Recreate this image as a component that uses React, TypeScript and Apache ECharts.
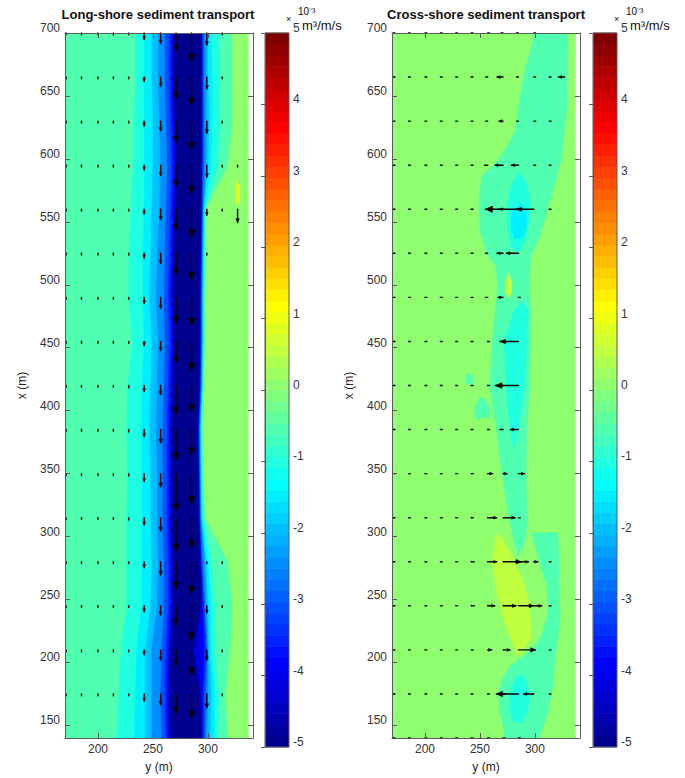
import React, { useEffect, useRef } from "react";
import * as echarts from "echarts";

const FONT = '"Liberation Sans", Arial, Helvetica, sans-serif';
const AX = "#5a5a5a";
const TX = "#333333";

// ---- axes ----
const Y_MIN = 170, Y_MAX = 341;          // horizontal axis "y (m)"
const X_MIN = 140, X_MAX = 700;          // vertical axis "x (m)"
const DATA_Y_MAX = 337;                  // model domain edge
const C_MIN = -5, C_MAX = 5;             // colour range (x10^-3 m3/m/s)
const yTickVals = [200, 250, 300];
const xTickVals = [150, 200, 250, 300, 350, 400, 450, 500, 550, 600, 650, 700];

// ---- contour knots (x positions) for long-shore field ----
const rows = [140, 175, 210, 245, 280, 315, 350, 385, 420, 455, 490, 525, 560, 595, 630, 665, 700];

// right edge of the -0.5 band (band starts at the offshore edge)
const lsAquaRight = [318, 316, 320, 322, 318, 297, 296, 295, 296, 297, 297, 298, 298, 318, 322, 322, 322];
// nested bands: left / right y-boundaries at each row
const lsBand10L = [217, 219, 221, 226, 226, 226, 227, 226, 227, 231, 228, 228, 230, 232, 233, 234, 234];
const lsBand10R = [309, 310, 306, 306, 303, 296, 295, 294.5, 295.5, 296.5, 296.5, 297, 297.5, 309, 311, 311, 310];
const lsBand15L = [233, 234, 235, 240, 240, 240, 240, 239, 240, 242, 241, 241, 242, 242, 242, 242, 242];
const lsBand15R = [306, 306, 303, 303, 300, 295, 294, 293.5, 295, 296, 296, 296, 297, 303, 304, 304, 303];
const lsBand20L = [243, 243, 243, 248, 249, 248, 248, 247, 248, 249, 247, 248, 249, 250, 250, 249, 249];
const lsBand20R = [302, 303, 301, 300, 298, 294, 293.5, 293, 294.5, 295, 295, 295.5, 296, 300, 301, 300, 300];
const lsBand25L = [249, 249, 249, 254, 255, 254, 254, 253, 254, 255, 253, 254, 256, 257, 256, 255, 255];
const lsBand25R = [299, 300, 300, 298, 297, 293.5, 293, 292.5, 294, 294.5, 294.5, 295, 295.5, 298, 298, 298, 298];
const lsBand30L = [258, 257, 258, 260, 260, 259, 259, 259, 260, 261, 260, 261, 262, 263, 262, 261, 261];
const lsBand30R = [297, 298, 299, 297, 295, 293, 292.5, 292, 293.5, 294, 294, 294.5, 295, 296, 296, 296, 296];
const lsBand35L = [262, 261, 262, 264, 264, 263, 263, 263, 264, 265, 264, 265, 266, 267, 266, 265, 265];
const lsBand35R = [296, 296, 298, 296, 294, 292.5, 292, 291.5, 293, 293.5, 293.5, 294, 294.5, 295, 295, 295, 295];
const lsBand40L = [264, 263, 264, 266, 266, 265, 265, 265, 266, 267, 266, 267, 268, 269, 268, 267, 267];
const lsBand40R = [295, 295, 296, 295, 293.5, 292, 291.5, 291, 292.5, 293, 293, 293.5, 294, 294.5, 294.5, 294.5, 294.5];
const lsBand50L = [266, 265, 266, 268, 268, 267, 267, 267, 268, 269, 268, 269, 270, 271, 270, 269, 269];
const lsBand50R = [294, 293, 287, 294, 293, 291.5, 291, 290.5, 292, 292.5, 292.5, 293, 293.5, 294, 294, 294, 294];
const lsSpot = [[326, 583], [329, 578], [329, 566], [327, 563], [325, 570]];

// ---- cross-shore field regions ([y, x] vertices) ----
const csAquaUpper = [[300, 700], [292, 674], [286, 648], [282, 622], [274, 609], [264, 596], [252, 587], [249, 569], [250, 543], [256, 525], [264, 515], [266, 500], [264, 480], [261, 455], [259, 420], [262, 400], [265, 385], [270, 350], [276, 317], [280, 300], [285, 284], [292, 300], [293, 317], [292, 350], [293, 385], [295, 420], [296, 455], [296, 480], [295, 500], [296, 522], [305, 540], [315, 570], [324, 600], [329, 640], [330, 700]];
const csAquaLower = [[297, 303], [304, 280], [311, 260], [312, 240], [306, 221], [297, 210], [277, 197], [270, 186], [267, 176], [268, 160], [271, 150], [273, 140], [304, 140], [312, 160], [316, 180], [318, 200], [321, 220], [323, 240], [322, 260], [322, 280], [321, 303]];
const csYellow = [[265, 302], [261, 281], [265, 255], [274, 228], [283, 207], [285, 205], [293, 214], [297, 221], [295, 247], [288, 268], [277, 288], [270, 299]];
const csYellowSmall = [[276, 509], [279, 502], [279, 494], [276, 489], [273, 494], [273, 502]];
const csCyanUpper = [[285, 590], [292, 582], [296, 566], [294, 548], [290, 532], [284, 526], [278, 530], [275, 545], [275, 565], [279, 580]];
const csCyanUpperCore = [[287, 565], [292, 560], [293, 548], [289, 538], [282, 536], [278, 545], [279, 557]];
const csCyanMid = [[289, 487], [294, 480], [293, 455], [291, 420], [287, 397], [281, 368], [276, 397], [274, 420], [272, 455], [281, 480]];
const csCyanLower = [[287, 191], [293, 185], [295, 172], [293, 160], [287, 152], [280, 153], [277, 163], [277, 175], [281, 186]];
const csSmall1 = [[237, 427], [240, 430], [244, 426], [243, 421], [238, 421]];
const csSmall2 = [[246, 404], [250, 411], [255, 409], [260, 400], [258, 394], [252, 395], [247, 393], [245, 398]];

// ---- quiver grid ----
const qCols = [171, 185, 200, 214, 228, 242, 257, 271, 285, 299, 313, 327];
const lsRows = [700, 665, 630, 595, 560, 525, 490, 455, 420, 385, 350, 315, 280, 245, 210, 175];
// long-shore transport (x10^-3), negative = towards decreasing x
const lsV = [
  [-0.2, -0.2, -0.2, -0.2, -0.3, -1.1, -1.7, -3.0, -4.7, -2.0, -0.2, 0],
  [-0.2, -0.2, -0.2, -0.2, -0.3, -0.7, -1.5, -3.5, -4.7, -2.0, -0.2, 0],
  [-0.2, -0.2, -0.2, -0.2, -0.3, -0.8, -1.6, -3.5, -4.7, -2.0, -0.2, 0],
  [-0.2, -0.2, -0.2, -0.2, -0.3, -0.8, -1.7, -3.5, -4.7, -2.0, -0.2, -0.2],
  [-0.2, -0.2, -0.2, -0.2, -0.3, -0.8, -1.7, -3.4, -4.6, -1.0, -0.2, -2.2],
  [-0.2, -0.2, -0.2, -0.2, -0.3, -0.8, -1.7, -3.5, -4.4, -0.3, 0, 0],
  [-0.2, -0.2, -0.2, -0.2, -0.3, -1.0, -1.8, -4.3, -4.7, 0, 0, 0],
  [-0.2, -0.2, -0.2, -0.2, -0.3, -0.7, -1.5, -3.5, -4.8, 0, 0, 0],
  [-0.2, -0.2, -0.2, -0.2, -0.4, -1.0, -1.5, -4.8, -4.3, 0, 0, 0],
  [-0.2, -0.2, -0.2, -0.2, -0.4, -1.2, -2.2, -5.0, -4.2, 0, 0, 0],
  [-0.2, -0.2, -0.2, -0.2, -0.4, -1.3, -2.2, -6.2, -5.0, 0, 0, 0],
  [-0.2, -0.2, -0.2, -0.2, -0.4, -1.2, -2.2, -5.5, -5.0, 0, 0, 0],
  [-0.2, -0.2, -0.2, -0.2, -0.3, -1.0, -2.2, -4.5, -5.3, -0.2, -0.2, 0],
  [-0.2, -0.2, -0.2, -0.2, -0.3, -1.0, -1.5, -3.2, -5.7, -1.2, -0.2, 0],
  [-0.2, -0.2, -0.2, -0.2, -0.3, -0.8, -1.7, -2.5, -4.2, -1.7, -0.2, 0],
  [-0.2, -0.2, -0.2, -0.2, -0.3, -1.2, -1.8, -3.2, -4.0, -2.3, -0.2, 0],
];
const csRows = [700, 665, 630, 595, 560, 525, 490, 455, 420, 385, 350, 315, 280, 245, 210, 175, 140];
// cross-shore transport (x10^-3), positive = towards increasing y
const csU = [
  [0.05, 0.05, 0.05, 0.05, 0.05, 0.05, 0.05, -0.1, -0.1, 0.05, 0, 0],
  [0.05, 0.05, 0.05, 0.05, 0.05, 0.05, -0.1, -0.3, -0.1, 0.05, 0.05, -0.3],
  [0.05, 0.05, 0.05, 0.05, 0.05, 0.05, -0.1, -0.2, -0.05, 0.05, 0.05, 0],
  [0.05, 0.05, 0.05, 0.05, 0.05, 0.05, -0.15, -0.4, -0.35, 0.05, 0.05, 0],
  [0.05, 0.05, 0.05, 0.05, 0.05, 0.05, 0.05, -0.2, -1.65, -0.85, 0.05, 0],
  [0.05, 0.05, 0.05, 0.05, 0.05, 0.05, -0.1, -0.3, -0.6, 0, 0, 0],
  [0.05, 0.05, 0.05, 0.05, 0.05, 0.05, -0.1, -0.25, 0.05, 0, 0, 0],
  [0.05, 0.05, 0.05, 0.05, 0.05, 0.05, 0.05, -0.15, -0.9, 0, 0, 0],
  [0.05, 0.05, 0.05, 0.05, 0.05, 0.05, 0.05, -0.2, -1.15, 0, 0, 0],
  [0.05, 0.05, 0.05, 0.05, 0.05, 0.05, 0.05, -0.15, -0.4, 0, 0, 0],
  [0.05, 0.05, 0.05, 0.05, 0.05, 0.1, 0.25, 0.2, 0.3, 0, 0, 0],
  [0.05, 0.05, 0.05, 0.05, 0.05, 0.1, 0.45, 0.6, 0.05, 0, 0, 0],
  [0.05, 0.05, 0.05, 0.05, 0.05, 0.15, 0.45, 0.9, 0.5, 0.2, 0.05, 0],
  [0.05, 0.05, 0.05, 0.05, 0.05, 0.15, 0.35, 0.65, 0.75, 0.4, 0.05, 0],
  [0.05, 0.05, 0.05, 0.05, 0.05, 0.1, 0.2, 0.35, 0.85, 0, 0.05, 0],
  [0.05, 0.05, 0.05, 0.05, 0.05, 0.05, 0.05, 0.05, -1.1, -0.5, 0.05, 0],
  [0.05, 0.05, 0.05, 0.05, 0.05, 0.05, 0.05, 0.05, 0.05, 0, 0, 0],
];

// ---- styling constants ----
const LS_SCALE = 6;   // px per unit (quiver scale, long-shore panel)
const CS_SCALE = 20;  // px per unit (quiver scale, cross-shore panel)
const N_COLORS = 64;

function jet(v: number): string {
  let idx = Math.floor(((v - C_MIN) / (C_MAX - C_MIN)) * N_COLORS);
  idx = Math.max(0, Math.min(N_COLORS - 1, idx));
  const t = (idx + 1) / N_COLORS;
  const f = (x: number) => Math.round(255 * Math.max(0, Math.min(1, x)));
  return `rgb(${f(1.5 - Math.abs(4 * t - 3))},${f(1.5 - Math.abs(4 * t - 2))},${f(1.5 - Math.abs(4 * t - 1))})`;
}

function band(left: number[], right: number[]): number[][] {
  const a = rows.map((x, k) => [left[k], x]);
  const b = rows.map((x, k) => [right[k], x]).reverse();
  return a.concat(b);
}
function edgeBand(right: number[]): number[][] {
  const a = rows.map((x) => [Y_MIN, x]);
  const b = rows.map((x, k) => [right[k], x]).reverse();
  return a.concat(b);
}
const domain = [[Y_MIN, X_MIN], [DATA_Y_MAX, X_MIN], [DATA_Y_MAX, X_MAX], [Y_MIN, X_MAX]];

const lsRegions = [
  { v: 0, pts: domain },
  { v: -0.5, pts: edgeBand(lsAquaRight) },
  { v: 0.8, pts: lsSpot },
  { v: -1.0, pts: band(lsBand10L, lsBand10R) },
  { v: -1.5, pts: band(lsBand15L, lsBand15R) },
  { v: -2.0, pts: band(lsBand20L, lsBand20R) },
  { v: -2.5, pts: band(lsBand25L, lsBand25R) },
  { v: -3.0, pts: band(lsBand30L, lsBand30R) },
  { v: -3.5, pts: band(lsBand35L, lsBand35R) },
  { v: -4.0, pts: band(lsBand40L, lsBand40R) },
  { v: -5.0, pts: band(lsBand50L, lsBand50R) },
];
const csRegions = [
  { v: 0, pts: domain },
  { v: -0.5, pts: csAquaUpper },
  { v: -0.5, pts: csAquaLower },
  { v: -0.5, pts: csSmall1 },
  { v: -0.5, pts: csSmall2 },
  { v: 0.5, pts: csYellow },
  { v: 0.5, pts: csYellowSmall },
  { v: -1.0, pts: csCyanUpper },
  { v: -1.5, pts: csCyanUpperCore },
  { v: -1.0, pts: csCyanMid },
  { v: -1.0, pts: csCyanLower },
];

function regionSeries(regions: { v: number; pts: number[][] }[], axisIdx: number) {
  return {
    type: "custom",
    xAxisIndex: axisIdx,
    yAxisIndex: axisIdx,
    clip: true,
    silent: true,
    data: regions.map((r, i) => [r.pts[0][0], r.pts[0][1], i]),
    renderItem: (params: any, api: any) => {
      const r = regions[params.dataIndex];
      const points = r.pts.map((p) => api.coord(p));
      const c = jet(r.v);
      return { type: "polygon", shape: { points }, style: { fill: c, stroke: c, lineWidth: 0.4 } };
    },
  };
}

function quiverData(rowsArr: number[], mat: number[][]) {
  const out: number[][] = [];
  rowsArr.forEach((x, r) => {
    qCols.forEach((y, c) => {
      const m = mat[r][c];
      if (m !== 0) out.push([y, x, m]);
    });
  });
  return out;
}

function quiverSeries(data: number[][], axisIdx: number, scale: number, horizontal: boolean) {
  return {
    type: "custom",
    xAxisIndex: axisIdx,
    yAxisIndex: axisIdx,
    silent: true,
    clip: false,
    data,
    renderItem: (params: any, api: any) => {
      const y = api.value(0), x = api.value(1), m = api.value(2);
      const p0 = api.coord([y, x]);
      let dx = horizontal ? m * scale : 0;
      let dy = horizontal ? 0 : -m * scale;
      let len = Math.hypot(dx, dy);
      const ux = dx / len, uy = dy / len;
      if (len < 1.8) { len = 1.8; dx = ux * len; dy = uy * len; }
      const p1 = [p0[0] + dx, p0[1] + dy];
      const children: any[] = [
        { type: "line", shape: { x1: p0[0], y1: p0[1], x2: p1[0], y2: p1[1] }, style: { stroke: "#000", lineWidth: 1.4, lineCap: "round" } },
      ];
      if (len >= 4) {
        const hl = Math.min(Math.max(len * 0.28, 3), 7);
        const hw = hl * 0.45;
        const bx = p1[0] - ux * hl, by = p1[1] - uy * hl;
        children.push({
          type: "polygon",
          shape: { points: [[bx - uy * hw, by + ux * hw], [p1[0], p1[1]], [bx + uy * hw, by - ux * hw]] },
          style: { fill: "#000", stroke: "#000", lineWidth: 0.6 },
        });
      }
      return { type: "group", children };
    },
  };
}

function colorbarSeries(axisIdx: number) {
  const step = (C_MAX - C_MIN) / N_COLORS;
  return {
    type: "custom",
    xAxisIndex: axisIdx,
    yAxisIndex: axisIdx,
    silent: true,
    data: Array.from({ length: N_COLORS }, (_, i) => [0.5, C_MIN + (i + 0.5) * step]),
    renderItem: (params: any, api: any) => {
      const i = params.dataIndex;
      const lo = C_MIN + i * step, hi = lo + step;
      const a = api.coord([0, hi]);
      const b = api.coord([1, lo]);
      return {
        type: "rect",
        shape: { x: a[0], y: a[1] - 0.3, width: b[0] - a[0], height: b[1] - a[1] + 0.6 },
        style: { fill: jet((lo + hi) / 2) },
      };
    },
  };
}

const labelStyle = { fontSize: 12, color: TX, fontFamily: FONT };
const nameStyle = { fontSize: 12, color: "#222", fontFamily: FONT };

function hAxes(grid: number) {
  return [
    {
      gridIndex: grid, type: "value", min: Y_MIN, max: Y_MAX, position: "bottom", z: 10,
      axisLine: { show: true, onZero: false, lineStyle: { color: AX } },
      axisTick: { show: true, inside: true, length: 5, customValues: yTickVals, lineStyle: { color: AX } },
      axisLabel: { show: true, customValues: yTickVals, margin: 5, ...labelStyle },
      splitLine: { show: false },
      name: "y (m)", nameLocation: "middle", nameGap: 23, nameTextStyle: nameStyle,
    },
    {
      gridIndex: grid, type: "value", min: Y_MIN, max: Y_MAX, position: "top", z: 10,
      axisLine: { show: true, onZero: false, lineStyle: { color: AX } },
      axisTick: { show: true, inside: true, length: 5, customValues: yTickVals, lineStyle: { color: AX } },
      axisLabel: { show: false },
      splitLine: { show: false },
    },
  ];
}
function vAxes(grid: number) {
  return [
    {
      gridIndex: grid, type: "value", min: X_MIN, max: X_MAX, position: "left", z: 10,
      axisLine: { show: true, onZero: false, lineStyle: { color: AX } },
      axisTick: { show: true, inside: true, length: 5, customValues: xTickVals, lineStyle: { color: AX } },
      axisLabel: { show: true, customValues: xTickVals, margin: 5, verticalAlign: "bottom", lineHeight: 10, ...labelStyle },
      splitLine: { show: false },
      name: "x (m)", nameLocation: "middle", nameGap: 37, nameRotate: 90, nameTextStyle: nameStyle,
    },
    {
      gridIndex: grid, type: "value", min: X_MIN, max: X_MAX, position: "right", z: 10,
      axisLine: { show: true, onZero: false, lineStyle: { color: AX } },
      axisTick: { show: true, inside: true, length: 5, customValues: xTickVals, lineStyle: { color: AX } },
      axisLabel: { show: false },
      splitLine: { show: false },
    },
  ];
}
function cbXAxis(grid: number) {
  return { gridIndex: grid, type: "value", min: 0, max: 1, show: false };
}
function cbYAxis(grid: number) {
  return {
    gridIndex: grid, type: "value", min: C_MIN, max: C_MAX, interval: 1, position: "right", z: 10,
    axisLine: { show: true, lineStyle: { color: AX } },
    axisTick: { show: true, inside: true, length: 4, lineStyle: { color: AX } },
    axisLabel: { show: true, margin: 4, verticalAlign: "bottom", lineHeight: 10, ...labelStyle },
    splitLine: { show: false },
  };
}

export default function App() {
  const ref = useRef<HTMLDivElement>(null);
  useEffect(() => {
    if (!ref.current) return;
    const chart = echarts.init(ref.current, null, { renderer: "svg" });
    const [hx0, hx1] = hAxes(0);
    const [hx2, hx3] = hAxes(2);
    const [vy0, vy1] = vAxes(0);
    const [vy2, vy3] = vAxes(2);
    const cbFrame = (left: number) => ({
      type: "rect", z: 100, silent: true,
      shape: { x: left, y: 33, width: 24, height: 714 },
      style: { fill: "none", stroke: AX, lineWidth: 1 },
    });
    const txt = (text: string, x: number, y: number, font: string, align = "center") => ({
      type: "text", x, y, z: 100, silent: true,
      style: { text, font, fill: "#111", textAlign: align, textVerticalAlign: "middle" },
    });
    const option: any = {
      animation: false,
      backgroundColor: "#ffffff",
      grid: [
        { left: 65, top: 33, width: 188, height: 714 },
        { left: 265, top: 33, width: 24, height: 714 },
        { left: 392, top: 33, width: 188, height: 714 },
        { left: 593, top: 33, width: 24, height: 714 },
      ],
      xAxis: [hx0, hx1, cbXAxis(1), hx2, hx3, cbXAxis(3)],
      yAxis: [vy0, vy1, cbYAxis(1), vy2, vy3, cbYAxis(3)],
      series: [
        regionSeries(lsRegions, 0),
        quiverSeries(quiverData(lsRows, lsV), 0, LS_SCALE, false),
        colorbarSeries(2),
        regionSeries(csRegions, 3),
        quiverSeries(quiverData(csRows, csU), 3, CS_SCALE, true),
        colorbarSeries(5),
      ],
      graphic: [
        cbFrame(265),
        cbFrame(593),
        txt("Long-shore sediment transport", 158, 14, `bold 13px ${FONT}`),
        txt("Cross-shore sediment transport", 486, 14, `bold 13px ${FONT}`),
        txt("10⁻³", 298, 11, `10px ${FONT}`, "left"),
        txt("×", 286, 19, `9px ${FONT}`, "left"),
        txt("m³/m/s", 302, 25, `13px ${FONT}`, "left"),
        txt("10⁻³", 626, 11, `10px ${FONT}`, "left"),
        txt("×", 614, 19, `9px ${FONT}`, "left"),
        txt("m³/m/s", 630, 25, `13px ${FONT}`, "left"),
      ],
    };
    chart.setOption(option);
    return () => chart.dispose();
  }, []);
  return (
    <div
      ref={ref}
      style={{ position: "absolute", left: 0, top: 0, width: 685, height: 778, background: "#fff" }}
    />
  );
}
